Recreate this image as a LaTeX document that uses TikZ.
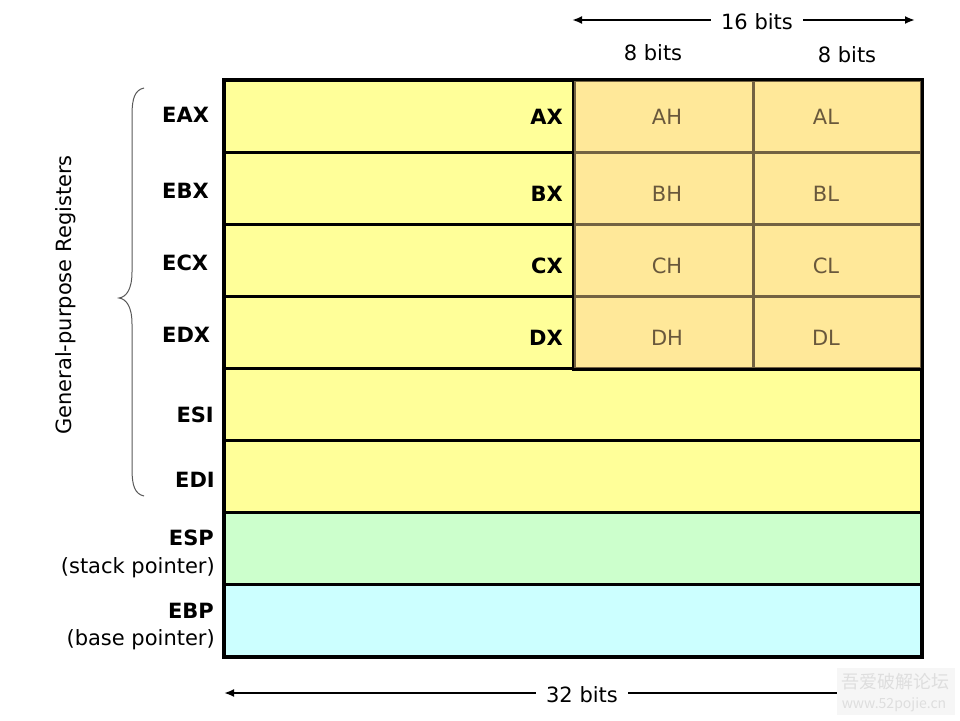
\documentclass[tikz,border=0pt]{standalone}
\usepackage{fontspec}
\setmainfont{DejaVu Sans}
\newfontfamily\cjkfont{Noto Sans CJK SC}
\usetikzlibrary{arrows.meta}
\definecolor{ylw}{RGB}{255,255,153}
\definecolor{orng}{RGB}{255,232,153}
\definecolor{grn}{RGB}{204,255,204}
\definecolor{cyn}{RGB}{204,255,255}
\definecolor{brn}{RGB}{115,98,66}
\definecolor{brntext}{RGB}{105,88,60}
\definecolor{wmbg}{RGB}{246,246,246}
\definecolor{wmtext}{RGB}{222,222,222}
\newcommand{\fs}{\fontsize{21}{25}\selectfont}
\begin{document}
\begin{tikzpicture}[x=1pt,y=-1pt,
  reg/.style={draw=black, line width=2.8pt, minimum width=697pt, minimum height=72pt, inner sep=0pt, anchor=north west},
  half/.style={draw=brn, line width=2.6pt, fill=orng, minimum height=72pt, inner sep=0pt, anchor=north west},
  lbl/.style={font=\bfseries\fs, inner sep=0pt},
  txt/.style={font=\fs, inner sep=0pt},
  sub/.style={font=\fs, text=brntext, inner sep=0pt, anchor=base},
  arr/.style={line width=2.6pt, -{Latex[length=10pt,width=8pt]}}
]
\useasboundingbox (0,0) rectangle (960,720);
% register rows
\node[reg, fill=ylw] (eax) at (223,79) {};
\node[reg, fill=ylw] (ebx) at (223,151) {};
\node[reg, fill=ylw] (ecx) at (223,223) {};
\node[reg, fill=ylw] (edx) at (223,295) {};
\node[reg, fill=ylw] (esi) at (223,367) {};
\node[reg, fill=ylw] (edi) at (223,439) {};
\node[reg, fill=grn] (esp) at (223,511) {};
\node[reg, fill=cyn] (ebp) at (223,583) {};
% 8-bit halves
\node[half, minimum width=179pt] (ah) at (573,79) {};
\node[half, minimum width=168pt] (al) at (752,79) {};
\node[half, minimum width=179pt] (bh) at (573,151) {};
\node[half, minimum width=168pt] (bl) at (752,151) {};
\node[half, minimum width=179pt] (ch) at (573,223) {};
\node[half, minimum width=168pt] (cl) at (752,223) {};
\node[half, minimum width=179pt] (dh) at (573,295) {};
\node[half, minimum width=168pt] (dl) at (752,295) {};
\draw[line width=2.8pt] (ah.north west) -- (dh.south west) -- (dl.south east);
\draw[line width=3pt] (eax.north west) rectangle (ebp.south east);
% 8-bit labels
\node[sub] (tah) at (667,124) {AH};
\node[sub] (tal) at (826,124) {AL};
\node[sub] (tbh) at (667,201) {BH};
\node[sub] (tbl) at (826,201) {BL};
\node[sub] (tch) at (667,273) {CH};
\node[sub] (tcl) at (826,273) {CL};
\node[sub] (tdh) at (667,345) {DH};
\node[sub] (tdl) at (826,345) {DL};
% 16-bit labels
\node[lbl, anchor=base east] (tax) at (563,124) {AX};
\node[lbl, anchor=base east] (tbx) at (563,201) {BX};
\node[lbl, anchor=base east] (tcx) at (563,273) {CX};
\node[lbl, anchor=base east] (tdx) at (563,345) {DX};
% 32-bit labels
\node[lbl, anchor=base west] (teax) at (162,122) {EAX};
\node[lbl, anchor=base west] (tebx) at (162,198) {EBX};
\node[lbl, anchor=base west] (tecx) at (162,270) {ECX};
\node[lbl, anchor=base west] (tedx) at (162,342) {EDX};
\node[lbl, anchor=base east] (tesi) at (214,422) {ESI};
\node[lbl, anchor=base east] (tedi) at (215,487) {EDI};
\node[lbl, anchor=base east] (tesp) at (214,545) {ESP};
\node[txt, anchor=base east] (tespd) at (215,573) {(stack pointer)};
\node[lbl, anchor=base east] (tebp) at (214,618) {EBP};
\node[txt, anchor=base east] (tebpd) at (215,645) {(base pointer)};
% brace and group label
\draw[line width=1pt, black!65] (144,88) .. controls (135,90) and (132,98) .. (132,115)
  -- (132,272) .. controls (132,290) and (126,297) .. (119,298)
  .. controls (126,299) and (132,306) .. (132,324)
  -- (132,469) .. controls (132,486) and (135,494) .. (144,496);
\node[txt, rotate=90] (gpr) at (66,295) {General-purpose Registers};
% top dimension labels
\node[txt, anchor=base, inner xsep=10pt] (t16) at (757,29) {16 bits};
\coordinate (l16) at (572,20);
\coordinate (r16) at (915,20);
\draw[arr] (t16.west |- l16) -- (l16);
\draw[arr] (t16.east |- r16) -- (r16);
\node[txt, anchor=base] (t8a) at (653,60) {8 bits};
\node[txt, anchor=base] (t8b) at (847,62) {8 bits};
% bottom dimension label
\node[txt, anchor=base, inner xsep=10pt] (t32) at (582,702) {32 bits};
\coordinate (l32) at (224,693);
\coordinate (r32) at (920,693);
\draw[arr] (t32.west |- l32) -- (l32);
\draw[line width=2.6pt] (t32.east |- r32) -- (r32);
% watermark
\node[fill=wmbg, minimum width=118pt, minimum height=47pt, anchor=north west, inner sep=0pt] (wm) at (837,668) {};
\node[font=\cjkfont\fontsize{18}{20}\selectfont, text=wmtext, inner sep=0pt] (wm1) at (895,682) {吾爱破解论坛};
\node[font=\cjkfont\fontsize{14}{16}\selectfont, text=wmtext, inner sep=0pt] (wm2) at (894,705) {www.52pojie.cn};
\end{tikzpicture}
\end{document}
